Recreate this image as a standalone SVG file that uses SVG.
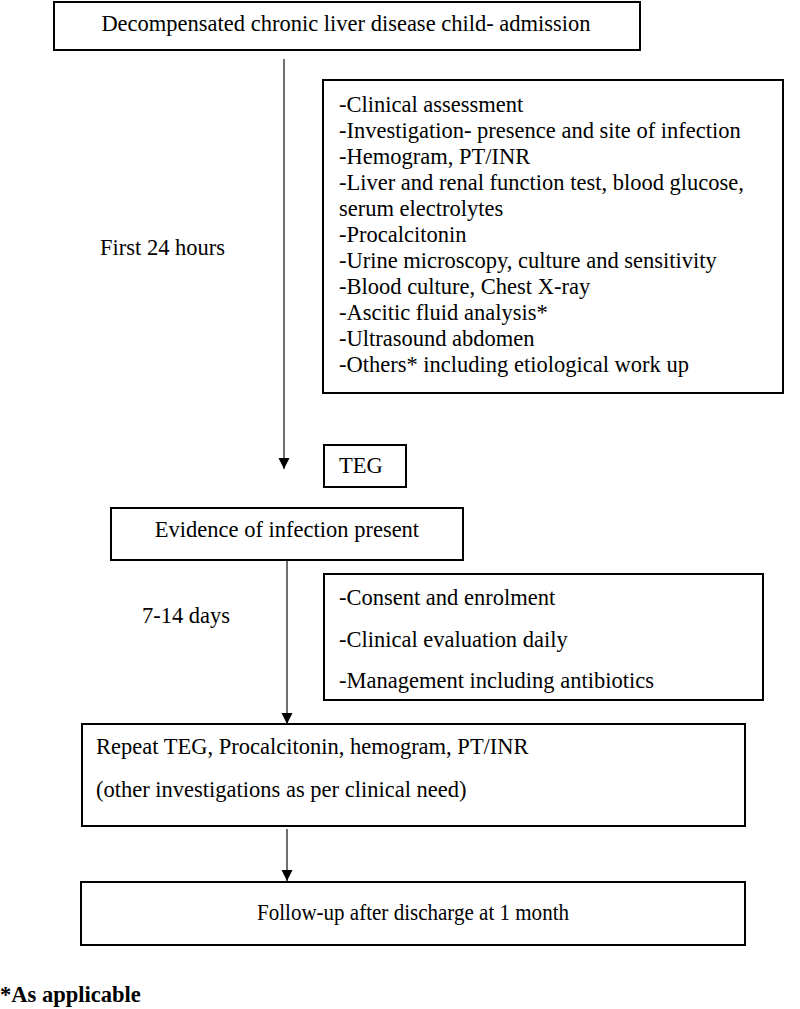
<svg xmlns="http://www.w3.org/2000/svg" width="800" height="1009" viewBox="0 0 800 1009">
<style>
.box{fill:#fff;stroke:#000;stroke-width:2}
.t{font-family:"Liberation Serif","Times New Roman",serif;font-size:22.5px;fill:#000}
.b{font-weight:bold}
.c{text-anchor:middle}
.conn{stroke:#333;stroke-width:1.4;fill:none}
</style>
<defs>
<marker id="ah" markerUnits="userSpaceOnUse" markerWidth="12" markerHeight="12" viewBox="0 0 12 12" refX="11" refY="6" orient="auto">
<path d="M0,0.5 L11,6 L0,11.5 Z" fill="#000"/>
</marker>
</defs>
<rect width="800" height="1009" fill="#fff"/>
<g id="connectors">
<line class="conn" x1="284" y1="59" x2="284" y2="469" marker-end="url(#ah)"/>
<line class="conn" x1="287" y1="560" x2="287" y2="724" marker-end="url(#ah)"/>
<line class="conn" x1="287" y1="829" x2="287" y2="881" marker-end="url(#ah)"/>
</g>
<g id="n-admission">
<rect class="box" x="54" y="2" width="586" height="48"/>
<text class="t c" x="346" y="31">Decompensated chronic liver disease child- admission</text>
</g>
<g id="l-first24">
<text class="t" x="100" y="255">First 24 hours</text>
</g>
<g id="n-workup">
<rect class="box" x="323" y="80" width="460" height="313"/>
<text class="t" x="339">
<tspan x="339" y="112">-Clinical assessment</tspan>
<tspan x="339" y="138">-Investigation- presence and site of infection</tspan>
<tspan x="339" y="164">-Hemogram, PT/INR</tspan>
<tspan x="339" y="190">-Liver and renal function test, blood glucose,</tspan>
<tspan x="339" y="216">serum electrolytes</tspan>
<tspan x="339" y="242">-Procalcitonin</tspan>
<tspan x="339" y="268">-Urine microscopy, culture and sensitivity</tspan>
<tspan x="339" y="294">-Blood culture, Chest X-ray</tspan>
<tspan x="339" y="320">-Ascitic fluid analysis*</tspan>
<tspan x="339" y="346">-Ultrasound abdomen</tspan>
<tspan x="339" y="372">-Others* including etiological work up</tspan>
</text>
</g>
<g id="n-teg">
<rect class="box" x="324" y="445" width="82" height="42"/>
<text class="t" x="339" y="473">TEG</text>
</g>
<g id="n-evidence">
<rect class="box" x="111" y="508" width="352" height="52"/>
<text class="t c" x="287" y="537">Evidence of infection present</text>
</g>
<g id="l-days">
<text class="t" x="142" y="623">7-14 days</text>
</g>
<g id="n-consent">
<rect class="box" x="324" y="574" width="439" height="126"/>
<text class="t" x="339" y="605">-Consent and enrolment</text>
<text class="t" x="339" y="647">-Clinical evaluation daily</text>
<text class="t" x="339" y="688">-Management including antibiotics</text>
</g>
<g id="n-repeat">
<rect class="box" x="82" y="724" width="663" height="102"/>
<text class="t" x="96" y="754">Repeat TEG, Procalcitonin, hemogram, PT/INR</text>
<text class="t" x="96" y="797">(other investigations as per clinical need)</text>
</g>
<g id="n-followup">
<rect class="box" x="81" y="882" width="664" height="63"/>
<text class="t c" x="413" y="920" textLength="312" lengthAdjust="spacingAndGlyphs">Follow-up after discharge at 1 month</text>
</g>
<g id="l-note">
<text class="t b" x="0" y="1002">*As applicable</text>
</g>
</svg>
